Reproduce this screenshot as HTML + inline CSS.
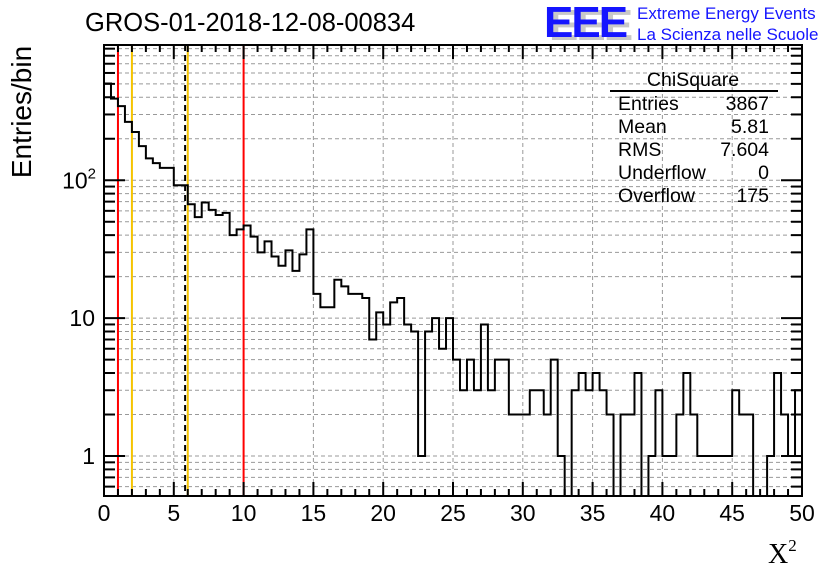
<!DOCTYPE html>
<html><head><meta charset="utf-8"><style>
html,body{margin:0;padding:0;background:#fff;}
svg{display:block;font-family:"Liberation Sans",sans-serif;}
</style></head><body>
<svg id="chart" width="836" height="572" viewBox="0 0 836 572">
<g id="grid"></g>
<g id="vlines"></g>
<path id="hist" fill="none" stroke="#000" stroke-width="2"/>
<g id="ticks"></g>
<rect x="104" y="45" width="698" height="451" fill="none" stroke="#000" stroke-width="2"/>
<g id="labels"></g>
<text x="85" y="31" font-size="25.5">GROS-01-2018-12-08-00834</text>
<g>
<text x="549" y="40" font-size="44" font-weight="bold" fill="#c8c8c8" letter-spacing="-2">EEE</text>
<text x="544" y="37" font-size="44" font-weight="bold" fill="#1515ff" letter-spacing="-2">EEE</text>
<text x="637" y="19" font-size="17" fill="#1515ff">Extreme Energy Events</text>
<text x="637" y="40" font-size="17" fill="#1515ff">La Scienza nelle Scuole</text>
</g>
<text transform="translate(31,112) rotate(-90)" text-anchor="middle" font-size="28">Entries/bin</text>
<text x="768" y="563" font-size="28" font-family="'Liberation Serif',serif">X<tspan font-size="17" dy="-12">2</tspan></text>
<g font-size="19.5">
<text x="693" y="86" text-anchor="middle">ChiSquare</text>
<line x1="610" y1="91" x2="778" y2="91" stroke="#000" stroke-width="2"/>
<text x="618" y="110">Entries</text><text x="769" y="110" text-anchor="end">3867</text>
<text x="618" y="133">Mean</text><text x="769" y="133" text-anchor="end">5.81</text>
<text x="618" y="156">RMS</text><text x="769" y="156" text-anchor="end">7.604</text>
<text x="618" y="179">Underflow</text><text x="769" y="179" text-anchor="end">0</text>
<text x="618" y="202">Overflow</text><text x="769" y="202" text-anchor="end">175</text>
</g>
</svg>
<script>
const counts = [503,391,345,265,224,177,144,133,123,123,92,92,67,54,69,61,56,58,40,44,47,39,30,36,28,24,31,22,29,44,15,12,12,19,17,15,15,14,7,11,9,13,14,9,8,1,8,10,6,10,5,3,5,3,9,3,5,5,2,2,2,3,3,2,5,1,0,3,4,3,4,3,2,0,2,2,4,0,1,3,1,1,2,4,2,1,1,1,1,1,3,2,2,0,0,1,4,2,1,3];
const binWidth = 0.5;
const xTickLabels = ["0","5","10","15","20","25","30","35","40","45","50"];
const yMajorValues = [1,10,100];
const refRed = [1,10];
const refYellow = [2,6];
const meanValue = 5.81;

const NS="http://www.w3.org/2000/svg";
const X0=104,X1=802,Y0=45,Y1=496,XMIN=0,XMAX=50,YMIN=0.513,YMAX=957;
const sx=v=>X0+(v-XMIN)/(XMAX-XMIN)*(X1-X0);
const ly=Math.log10;
const sy=v=>{if(v<=YMIN)return Y1;return Y1-(ly(v)-ly(YMIN))/(ly(YMAX)-ly(YMIN))*(Y1-Y0);};
function mk(tag,attrs,parent){const e=document.createElementNS(NS,tag);for(const k in attrs)e.setAttribute(k,attrs[k]);parent.appendChild(e);return e;}
const grid=document.getElementById('grid'),ticks=document.getElementById('ticks'),labels=document.getElementById('labels'),vl=document.getElementById('vlines');
for(let i=1;i<xTickLabels.length-1;i++){const x=sx(+xTickLabels[i]);const l=mk('line',{x1:x,x2:x,y1:Y0,y2:Y1,stroke:'#999','stroke-dasharray':'4,3','stroke-width':1},grid);

}
for(let d=-1;d<=2;d++){for(let m=1;m<=9;m++){const v=m*Math.pow(10,d);if(v<YMIN||v>YMAX)continue;const y=sy(v);
const g=mk('line',{x1:X0,x2:X1,y1:y,y2:y,stroke:'#999','stroke-dasharray':'4,3','stroke-width':1},grid);


const len=m===1?21:11;
mk('line',{x1:X0,x2:X0+len,y1:y,y2:y,stroke:'#000','stroke-width':2},ticks);
mk('line',{x1:X1-len,x2:X1,y1:y,y2:y,stroke:'#000','stroke-width':2},ticks);}}
for(let v=0;v<=50;v++){const x=sx(v);const len=v%5===0?14:7;
mk('line',{x1:x,x2:x,y1:Y1,y2:Y1-len,stroke:'#000','stroke-width':2},ticks);
mk('line',{x1:x,x2:x,y1:Y0,y2:Y0+len,stroke:'#000','stroke-width':2},ticks);}
xTickLabels.forEach(t=>{const e=mk('text',{x:sx(+t),y:521,'text-anchor':'middle','font-size':23},labels);e.textContent=t;

});
yMajorValues.forEach(v=>{const y=sy(v)+8;let e;
if(v===100){e=mk('text',{x:96,y:y,'text-anchor':'end','font-size':23},labels);e.innerHTML='10<tspan font-size="15" dy="-10">2</tspan>';}
else{e=mk('text',{x:95,y:y,'text-anchor':'end','font-size':23},labels);e.textContent=String(v);}

});
refRed.forEach(v=>{const l=mk('line',{x1:sx(v),x2:sx(v),y1:Y0,y2:Y1,stroke:'#f00','stroke-width':2},vl);

});
refYellow.forEach(v=>{const l=mk('line',{x1:sx(v),x2:sx(v),y1:Y0,y2:Y1,stroke:'#f5c400','stroke-width':2},vl);

});
const ml=mk('line',{x1:sx(meanValue),x2:sx(meanValue),y1:Y0,y2:Y1,stroke:'#000','stroke-width':2,'stroke-dasharray':'6,4'},vl);


let d='M'+sx(0)+','+Y1;
counts.forEach((c,i)=>{const y=sy(c);d+=' L'+sx(i*binWidth)+','+y+' L'+sx((i+1)*binWidth)+','+y;});
document.getElementById('hist').setAttribute('d',d);
</script>
</body></html>
